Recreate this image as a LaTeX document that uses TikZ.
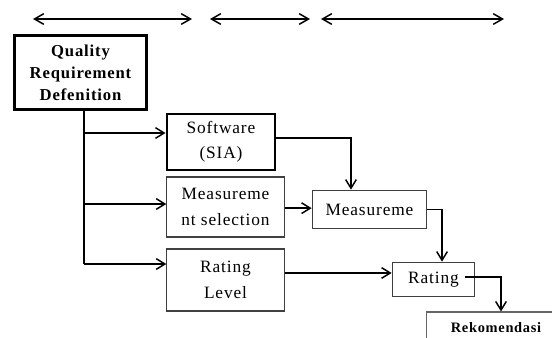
\documentclass[tikz,border=0pt]{standalone}
\usepackage{fontspec}
\setmainfont[LetterSpace=5]{Liberation Serif}
\usetikzlibrary{shapes,arrows.meta}
\tikzstyle{arrow} = [line width=1.1pt,-{Straight Barb[length=6.5pt,width=8pt]}]
\tikzstyle{span} = [line width=1.1pt,{Straight Barb[length=7pt,width=8pt]}-{Straight Barb[length=7pt,width=8pt]}]
\tikzstyle{thickbox} = [draw,line width=2.2pt,rectangle,align=center,font=\fontsize{13}{19}\selectfont]
\tikzstyle{thinbox} = [draw=black!75,line width=0.8pt,rectangle,align=center,font=\fontsize{13}{19}\selectfont]

\begin{document}
\begin{tikzpicture}[x=0.75pt,y=-0.75pt]
    \useasboundingbox (0,0) rectangle (552,337);
    \clip (0,0) rectangle (552,337);

    % phases along the top
    \coordinate (a1) at (33,19);  \coordinate (a2) at (192,19);
    \coordinate (b1) at (210,19); \coordinate (b2) at (310,19);
    \coordinate (c1) at (321,19); \coordinate (c2) at (504,19);
    \draw[span] (a1) -- (a2);
    \draw[span] (b1) -- (b2);
    \draw[span] (c1) -- (c2);

    \node[thickbox,minimum width=99pt,minimum height=56pt,font=\bfseries\fontsize{12.5}{16.5}\selectfont]
        (qrd) at (80.5,72.5) {Quality\\Requirement\\Defenition};
    \node[thickbox,minimum width=81pt,minimum height=42pt]
        (soft) at (221,142) {Software\\(SIA)};
    \node[thinbox,minimum width=88pt,minimum height=45pt]
        (msel) at (225.5,207) {Measureme\\nt selection};
    \node[thinbox,minimum width=88pt,minimum height=46.5pt]
        (rlev) at (225.5,280) {Rating\\Level};
    \node[thinbox,minimum width=86pt,minimum height=29pt]
        (meas) at (369.5,209.5) {Measureme};
    \node[thinbox,minimum width=62pt,minimum height=26pt]
        (rate) at (433.5,279.5) {Rating};
    \node[thinbox,draw=black!60,minimum width=104pt,minimum height=24pt,font=\bfseries\fontsize{10.8}{13}\selectfont]
        (rekom) at (496,328) {Rekomendasi};

    % branches from the requirement box
    \draw[line width=1.1pt] ([xshift=2.6pt]qrd.south) -- ([xshift=2.6pt,yshift=12pt]qrd.south |- rlev.west);
    \draw[arrow] ([xshift=2.6pt]qrd.south |- soft.west) ++(0,-9) -- ([yshift=6.75pt]soft.west);
    \draw[arrow] ([xshift=2.6pt,yshift=2.25pt]qrd.south |- msel.west) -- ([yshift=2.25pt]msel.west);
    \draw[arrow] ([xshift=2.6pt,yshift=12pt]qrd.south |- rlev.west) -- ([yshift=12pt]rlev.west);

    % flow towards the recommendation
    \draw[arrow] ([yshift=3pt]soft.east) -| ([xshift=-13.9pt]meas.north);
    \draw[arrow] ([yshift=1pt]msel.east |- meas.west) -- ([yshift=1pt]meas.west);
    \draw[arrow] (meas.east) -| ([xshift=6.4pt]rate.north);
    \draw[arrow] ([yshift=4.9pt]rlev.east |- rate.west) -- ([yshift=4.9pt]rate.west);
    \draw[arrow] ([xshift=-7.5pt,yshift=1.9pt]rate.east) -| ([xshift=3.75pt]rekom.north);
\end{tikzpicture}
\end{document}
